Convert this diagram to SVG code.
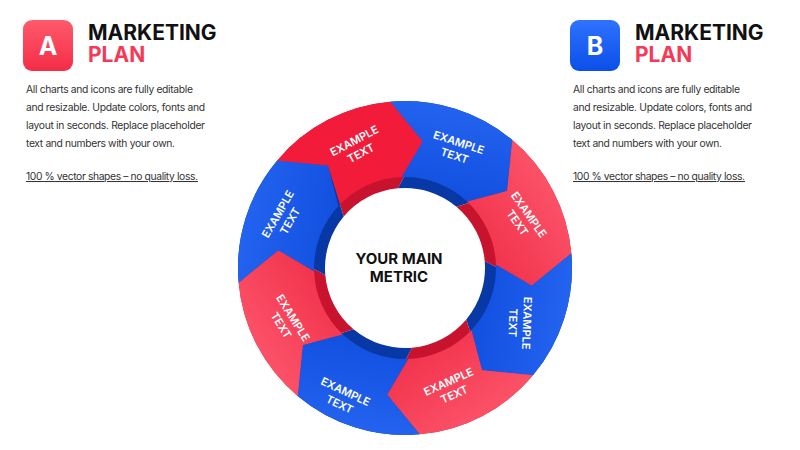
<svg xmlns="http://www.w3.org/2000/svg" xmlns:xlink="http://www.w3.org/1999/xlink" width="800" height="450" viewBox="0 0 800 450">
  <defs>
    <linearGradient id="gRed" x1="0" y1="0" x2="1" y2="1">
      <stop offset="0" stop-color="#ff6074"/>
      <stop offset="1" stop-color="#ef2843"/>
    </linearGradient>
    <linearGradient id="gBlue" x1="0" y1="0" x2="1" y2="1">
      <stop offset="0" stop-color="#2a6cf6"/>
      <stop offset="1" stop-color="#0c48da"/>
    </linearGradient>
    <linearGradient id="gBoxA" x1="0" y1="0" x2="0" y2="1">
      <stop offset="0" stop-color="#ff5a6c"/>
      <stop offset="1" stop-color="#f42c47"/>
    </linearGradient>
    <linearGradient id="gBoxB" x1="0" y1="0" x2="0" y2="1">
      <stop offset="0" stop-color="#2f72ff"/>
      <stop offset="1" stop-color="#0a4fe8"/>
    </linearGradient>
    <path id="segSide" d="M277.07,160.65 A167,167 0 0 1 390.44,101.64 L422.81,141.25 L398.03,188.30 A80,80 0 0 0 343.72,216.58 L327.97,165.77 Z"/>
    <path id="segFace" d="M277.07,160.65 A167,167 0 0 1 390.44,101.64 L422.81,141.25 L401.79,177.06 A91,91 0 0 0 338.42,205.96 L327.97,165.77 Z"/>
  </defs>
  <style>
    .title { font-family: Inter, "Liberation Sans", sans-serif; font-weight: 700; font-size: 21px; }
    .dark { fill: #111111; }
    .accent { fill: #f43a58; }
    .body { font-family: Inter, "Liberation Sans", sans-serif; font-size: 10.3px; fill: #333333; }
    .letter { font-family: Inter, "Liberation Sans", sans-serif; font-weight: 700; font-size: 25px; fill: #ffffff; text-anchor: middle; }
    .seg { font-family: Inter, "Liberation Sans", sans-serif; font-weight: 600; font-size: 11px; fill: #ffffff; text-anchor: middle; }
    .center { font-family: Inter, "Liberation Sans", sans-serif; font-weight: 700; font-size: 15px; fill: #111111; text-anchor: middle; }
    .redSide { fill: #c8132f; }
    .blueSide { fill: #0837a6; }
  </style>
  <rect width="800" height="450" fill="#ffffff"/>

  <g id="headerA">
    <rect x="23" y="20" width="50" height="51" rx="9" fill="url(#gBoxA)"/>
    <text class="letter" x="48" y="55">A</text>
    <text class="title dark" x="88" y="40">MARKETING</text>
    <text class="title accent" x="88" y="62">PLAN</text>
    <text class="body" x="26" y="93" textLength="167" lengthAdjust="spacing">All charts and icons are fully editable</text>
    <text class="body" x="26" y="111" textLength="179" lengthAdjust="spacing">and resizable. Update colors, fonts and</text>
    <text class="body" x="26" y="129" textLength="179" lengthAdjust="spacing">layout in seconds. Replace placeholder</text>
    <text class="body" x="26" y="147" textLength="149" lengthAdjust="spacing">text and numbers with your own.</text>
    <text class="body" x="26" y="180" textLength="172" lengthAdjust="spacing" text-decoration="underline">100 % vector shapes – no quality loss.</text>
  </g>

  <g id="headerB">
    <rect x="570" y="20" width="50" height="51" rx="9" fill="url(#gBoxB)"/>
    <text class="letter" x="595" y="55">B</text>
    <text class="title dark" x="635" y="40">MARKETING</text>
    <text class="title accent" x="635" y="62">PLAN</text>
    <text class="body" x="573" y="93" textLength="167" lengthAdjust="spacing">All charts and icons are fully editable</text>
    <text class="body" x="573" y="111" textLength="179" lengthAdjust="spacing">and resizable. Update colors, fonts and</text>
    <text class="body" x="573" y="129" textLength="179" lengthAdjust="spacing">layout in seconds. Replace placeholder</text>
    <text class="body" x="573" y="147" textLength="149" lengthAdjust="spacing">text and numbers with your own.</text>
    <text class="body" x="573" y="180" textLength="172" lengthAdjust="spacing" text-decoration="underline">100 % vector shapes – no quality loss.</text>
  </g>

  <g id="seg1">
    <use href="#segSide" class="redSide"/>
    <use href="#segFace" fill="#f21b3a"/>
    <text class="seg" transform="translate(357,146) rotate(-28)"><tspan x="0" y="-2">EXAMPLE</tspan><tspan x="0" y="12">TEXT</tspan></text>
  </g>
  <g id="seg2">
    <use href="#segSide" class="blueSide" transform="rotate(45 405 268)"/>
    <use href="#segFace" fill="url(#gBlue)" transform="rotate(45 405 268)"/>
    <text class="seg" transform="translate(457,148) rotate(18)"><tspan x="0" y="-2">EXAMPLE</tspan><tspan x="0" y="12">TEXT</tspan></text>
  </g>
  <g id="seg3">
    <use href="#segSide" class="redSide" transform="rotate(90 405 268)"/>
    <use href="#segFace" fill="url(#gRed)" transform="rotate(90 405 268)"/>
    <text class="seg" transform="translate(524,218) rotate(55)"><tspan x="0" y="-2">EXAMPLE</tspan><tspan x="0" y="12">TEXT</tspan></text>
  </g>
  <g id="seg4">
    <use href="#segSide" class="blueSide" transform="rotate(135 405 268)"/>
    <use href="#segFace" fill="url(#gBlue)" transform="rotate(135 405 268)"/>
    <text class="seg" transform="translate(521,323) rotate(92)"><tspan x="0" y="-2">EXAMPLE</tspan><tspan x="0" y="12">TEXT</tspan></text>
  </g>
  <g id="seg5">
    <use href="#segSide" class="redSide" transform="rotate(180 405 268)"/>
    <use href="#segFace" fill="url(#gRed)" transform="rotate(180 405 268)"/>
    <text class="seg" transform="translate(451,387) rotate(-24)"><tspan x="0" y="-2">EXAMPLE</tspan><tspan x="0" y="12">TEXT</tspan></text>
  </g>
  <g id="seg6">
    <use href="#segSide" class="blueSide" transform="rotate(225 405 268)"/>
    <use href="#segFace" fill="url(#gBlue)" transform="rotate(225 405 268)"/>
    <text class="seg" transform="translate(343,397) rotate(25)"><tspan x="0" y="-2">EXAMPLE</tspan><tspan x="0" y="12">TEXT</tspan></text>
  </g>
  <g id="seg7">
    <use href="#segSide" class="redSide" transform="rotate(270 405 268)"/>
    <use href="#segFace" fill="url(#gRed)" transform="rotate(270 405 268)"/>
    <text class="seg" transform="translate(288,321) rotate(58)"><tspan x="0" y="-2">EXAMPLE</tspan><tspan x="0" y="12">TEXT</tspan></text>
  </g>
  <g id="seg8">
    <use href="#segSide" class="blueSide" transform="rotate(315 405 268)"/>
    <use href="#segFace" fill="url(#gBlue)" transform="rotate(315 405 268)"/>
    <text class="seg" transform="translate(283,217) rotate(-60)"><tspan x="0" y="-2">EXAMPLE</tspan><tspan x="0" y="12">TEXT</tspan></text>
  </g>

  <g id="centerMetric">
    <text class="center" x="399" y="264">YOUR MAIN</text>
    <text class="center" x="399" y="282">METRIC</text>
  </g>
</svg>
